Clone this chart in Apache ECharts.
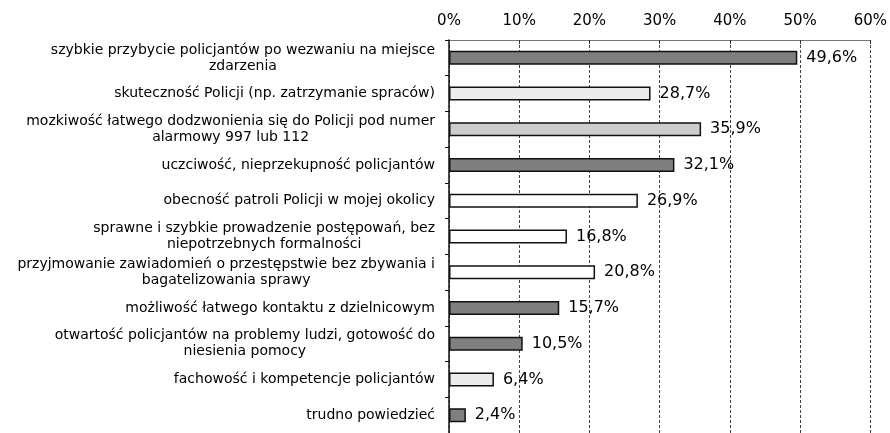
<!DOCTYPE html>
<html>
<head>
<meta charset="utf-8">
<script src="https://cdn.jsdelivr.net/npm/echarts@6/dist/echarts.min.js"></script>
<style>
html, body { margin: 0; padding: 0; background: #fff; }
#chart { width: 890px; height: 433px; }
</style>
</head>
<body>
<div id="chart"></div>
<script>
// categories top to bottom
var categories = [
    'szybkie przybycie policjantów po wezwaniu na miejsce\nzdarzenia',
    'skuteczność Policji (np. zatrzymanie spraców)',
    'mozkiwość łatwego dodzwonienia się do Policji pod numer\nalarmowy 997 lub 112',
    'uczciwość, nieprzekupność policjantów',
    'obecność patroli Policji w mojej okolicy',
    'sprawne i szybkie prowadzenie postępowań, bez\nniepotrzebnych formalności',
    'przyjmowanie zawiadomień o przestępstwie bez zbywania i\nbagatelizowania sprawy',
    'możliwość łatwego kontaktu z dzielnicowym',
    'otwartość policjantów na problemy ludzi, gotowość do\nniesienia pomocy',
    'fachowość i kompetencje policjantów',
    'trudno powiedzieć'
];
var values = [49.6, 28.7, 35.9, 32.1, 26.9, 16.8, 20.8, 15.7, 10.5, 6.4, 2.4];
var tickLabels = ['0%', '10%', '20%', '30%', '40%', '50%', '60%'];

// fill kind of each bar (styling only)
var fillKind = ['dark', 'dots', 'light', 'dark', 'white', 'white', 'white', 'dark', 'dark', 'dots', 'dark'];
var fills = { dark: '#7f7f7f', light: '#cdcdcd', dots: '#ececec', white: '#ffffff' };

var font = 'DejaVu Sans, Verdana, sans-serif';

var chart = echarts.init(document.getElementById('chart'));

var barData = values.map(function (v, i) {
    return { value: v, itemStyle: { color: fills[fillKind[i]] } };
});

chart.setOption({
    animation: false,
    grid: { left: 449, right: 19, top: 40, height: 396 },
    xAxis: {
        type: 'value',
        position: 'top',
        min: 0,
        max: 60,
        interval: 10,
        axisLine: { show: true, lineStyle: { color: '#777', width: 1 } },
        axisTick: { show: true, inside: true, length: 4, lineStyle: { color: '#333' } },
        axisLabel: {
            margin: 11,
            color: '#000',
            fontFamily: font,
            fontSize: 15,
            formatter: function (v) { return tickLabels[v / 10]; }
        },
        splitLine: { show: true, lineStyle: { color: '#444', type: [3, 2], width: 1 } }
    },
    yAxis: {
        type: 'category',
        inverse: true,
        data: categories,
        axisLine: { show: true, lineStyle: { color: '#111', width: 1.5 } },
        axisTick: { show: true, length: 4, lineStyle: { color: '#111' } },
        axisLabel: {
            margin: 14,
            align: 'right',
            color: '#000',
            fontFamily: font,
            fontSize: 14,
            lineHeight: 16,
            formatter: function (s) {
                return s.split('\n').map(function (l) { return '{c|' + l + '}'; }).join('\n');
            },
            rich: {
                c: {
                    align: 'center',
                    color: '#000',
                    fontFamily: font,
                    fontSize: 14,
                    lineHeight: 16
                }
            }
        }
    },
    series: [{
        type: 'bar',
        data: barData,
        barWidth: 14,
        itemStyle: { borderColor: '#111', borderWidth: 1.5 },
        label: {
            show: true,
            position: 'right',
            distance: 9,
            color: '#000',
            fontFamily: font,
            fontSize: 16,
            formatter: function (p) { return p.value.toFixed(1).replace('.', ',') + '%'; }
        }
    }]
});
</script>
</body>
</html>
